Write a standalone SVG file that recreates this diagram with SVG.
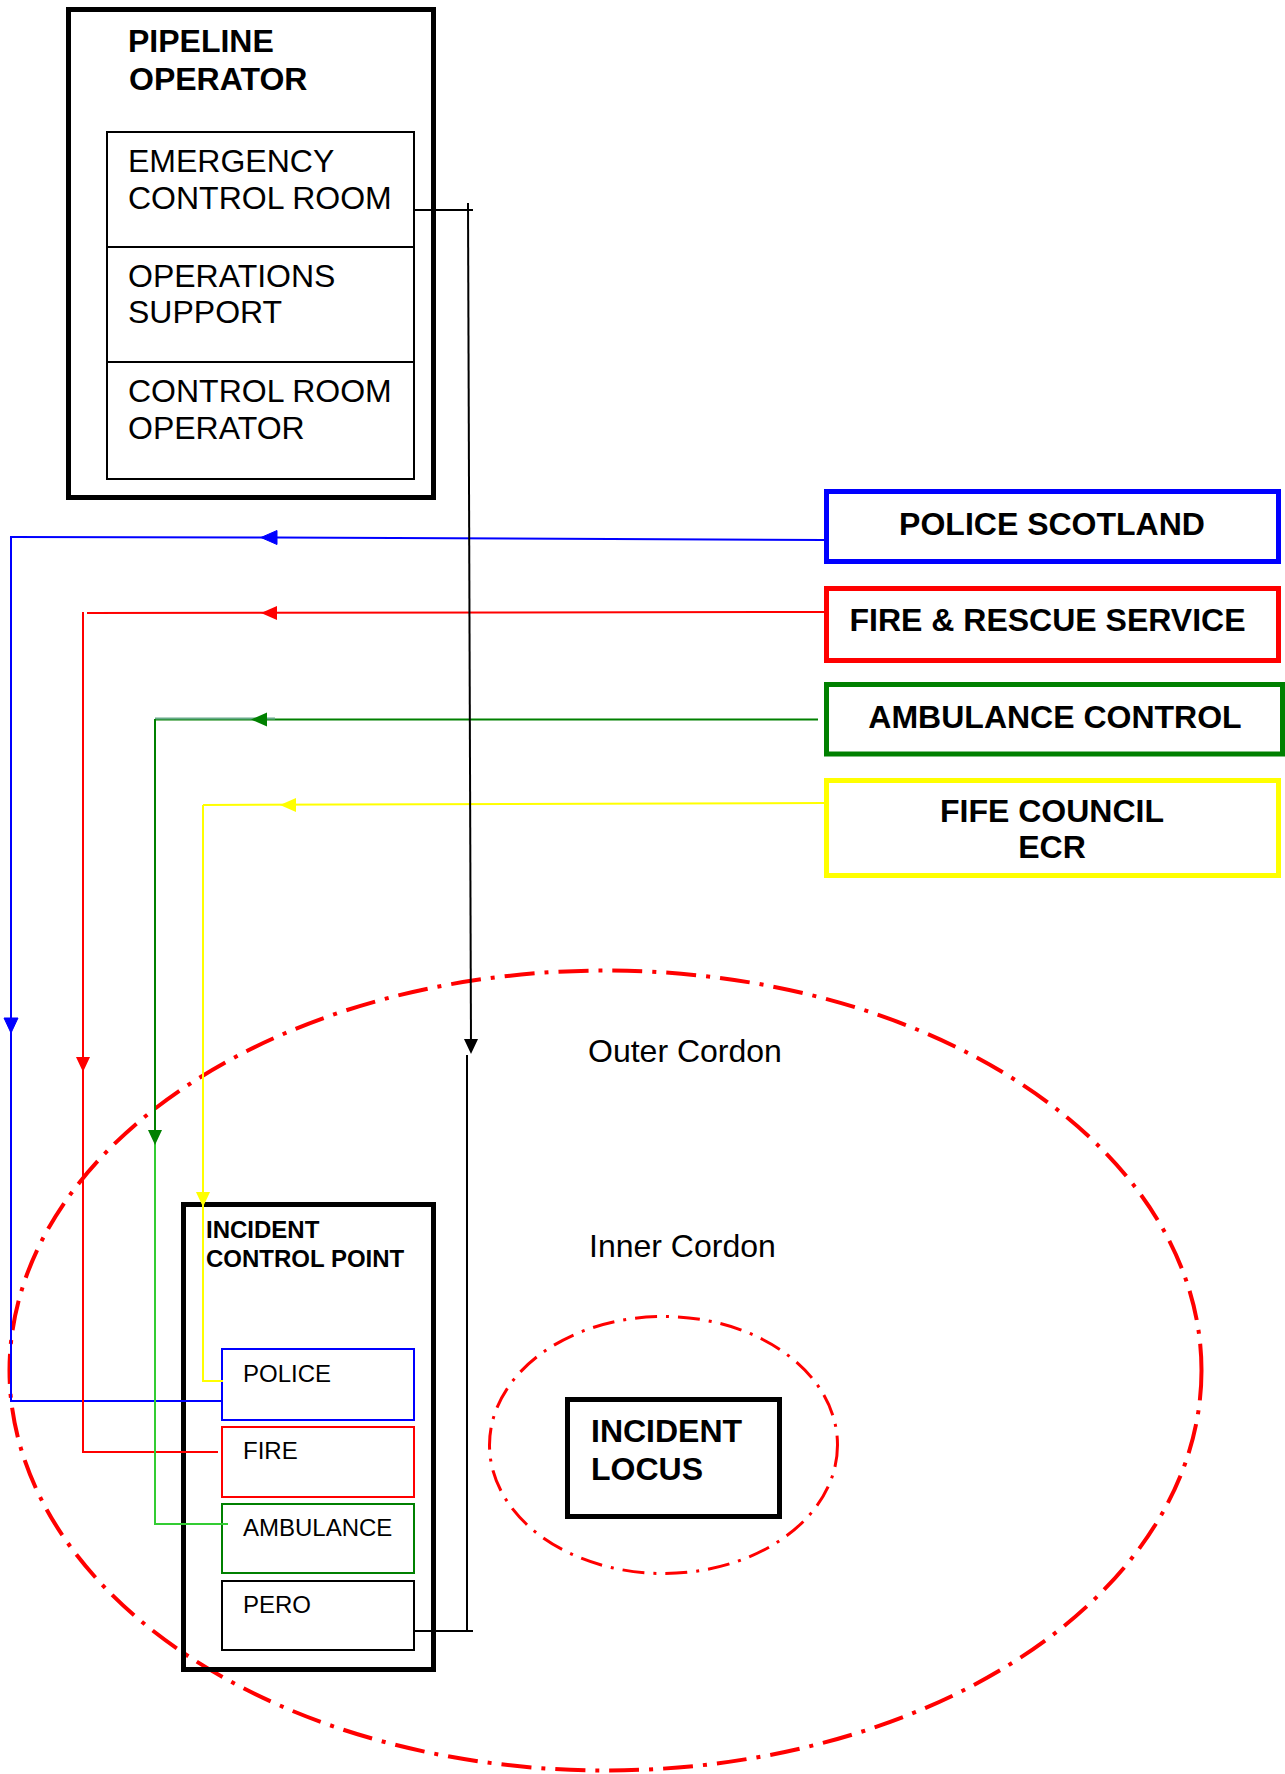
<svg xmlns="http://www.w3.org/2000/svg" width="1285" height="1774" viewBox="0 0 1285 1774">
<style>
text{font-family:"Liberation Sans",Arial,sans-serif;fill:#000}
.b{font-weight:bold}
.t32{font-size:32px}
.t24{font-size:24px}
.box{fill:none}
.thick{stroke:#000;stroke-width:5}
.thin{stroke-width:2}
.conn{fill:none;stroke-width:2}
.cordon{fill:none;stroke:#ff0000}
</style>
<defs>
<path id="arrL" d="M0,0 L16,-7 L16,7 Z"/>
<path id="arrD" d="M0,0 L-7,-15 L7,-15 Z"/>
</defs>
<rect width="1285" height="1774" fill="#fff"/>

<g id="outer-cordon">
<ellipse class="cordon" cx="605.5" cy="1370.5" rx="596" ry="400" stroke-width="4" stroke-dasharray="30 10 4 10"/>
<text class="t32" x="588" y="1062">Outer Cordon</text>
<text class="t32" x="589" y="1257">Inner Cordon</text>
</g>

<g id="inner-cordon">
<ellipse class="cordon" cx="663.5" cy="1445" rx="174" ry="128.5" stroke-width="3" stroke-dasharray="22 9 3 9"/>
</g>

<g id="pipeline-operator">
<rect class="box thick" x="68.5" y="9.5" width="365" height="488"/>
<text class="b t32" x="128" y="52">PIPELINE</text>
<text class="b t32" x="129" y="90">OPERATOR</text>
<rect class="box" stroke="#000" stroke-width="2" x="107" y="132" width="307" height="347"/>
<line x1="107" y1="247" x2="414" y2="247" stroke="#000" stroke-width="2"/>
<line x1="107" y1="362" x2="414" y2="362" stroke="#000" stroke-width="2"/>
<g id="ecr"><text class="t32" x="128" y="172">EMERGENCY</text><text class="t32" x="128" y="209">CONTROL ROOM</text></g>
<g id="ops-support"><text class="t32" x="128" y="287">OPERATIONS</text><text class="t32" x="128" y="323">SUPPORT</text></g>
<g id="cr-operator"><text class="t32" x="128" y="402">CONTROL ROOM</text><text class="t32" x="128" y="439">OPERATOR</text></g>
</g>

<g id="police-scotland">
<rect class="box" stroke="#0000ff" stroke-width="5" x="826.5" y="491.5" width="452" height="70"/>
<text class="b t32" x="1052" y="535" text-anchor="middle">POLICE SCOTLAND</text>
</g>
<g id="fire-rescue">
<rect class="box" stroke="#ff0000" stroke-width="5" x="826.5" y="588.5" width="452" height="72"/>
<text class="b t32" x="1047.5" y="631" text-anchor="middle">FIRE &amp; RESCUE SERVICE</text>
</g>
<g id="ambulance-control">
<rect class="box" stroke="#008000" stroke-width="5" x="826.5" y="684.5" width="456" height="69.5"/>
<text class="b t32" x="1055" y="728" text-anchor="middle">AMBULANCE CONTROL</text>
</g>
<g id="fife-council">
<rect class="box" stroke="#ffff00" stroke-width="5" x="826.5" y="780.5" width="452" height="95"/>
<text class="b t32" x="1052" y="822" text-anchor="middle">FIFE COUNCIL</text>
<text class="b t32" x="1052" y="858" text-anchor="middle">ECR</text>
</g>

<g id="incident-control-point">
<rect class="box thick" x="183.5" y="1204.5" width="250" height="465"/>
<text class="b t24" x="206" y="1238">INCIDENT</text>
<text class="b t24" x="206" y="1267">CONTROL POINT</text>
<g id="icp-police"><rect class="box" stroke="#0000ff" stroke-width="2" x="222" y="1349" width="192" height="71"/><text class="t24" x="243" y="1382">POLICE</text></g>
<g id="icp-fire"><rect class="box" stroke="#ff0000" stroke-width="2" x="222" y="1427" width="192" height="70"/><text class="t24" x="243" y="1459">FIRE</text></g>
<g id="icp-ambulance"><rect class="box" stroke="#008000" stroke-width="2" x="222" y="1504" width="192" height="69"/><text class="t24" x="243" y="1536">AMBULANCE</text></g>
<g id="icp-pero"><rect class="box" stroke="#000" stroke-width="2" x="222" y="1581" width="192" height="69"/><text class="t24" x="243" y="1613">PERO</text></g>
</g>

<g id="incident-locus">
<rect class="box thick" x="567.5" y="1399.5" width="212" height="117"/>
<text class="b t32" x="591" y="1442">INCIDENT</text>
<text class="b t32" x="591" y="1480">LOCUS</text>
</g>

<g id="connectors">
<g stroke="#0000ff" fill="#0000ff">
<polyline class="conn" points="824,540 277,537.5 10,537"/>
<polyline class="conn" points="11,537 11,1401 222,1401"/>
<use href="#arrL" x="261" y="537.5"/>
<use href="#arrD" x="11" y="1033"/>
</g>
<g stroke="#ff0000" fill="#ff0000">
<line class="conn" x1="824" y1="612" x2="87" y2="613"/>
<polyline class="conn" points="83,612 83,1452 218,1452"/>
<use href="#arrL" x="261" y="613" stroke="none"/>
<use href="#arrD" x="83" y="1072" stroke="none"/>
</g>
<g fill="#008000">
<line class="conn" stroke="#008000" x1="818" y1="719.5" x2="155" y2="719.5"/>
<line x1="155" y1="718.5" x2="275" y2="718.5" stroke="#66aa88" stroke-width="2"/>
<line class="conn" stroke="#008000" x1="155" y1="719" x2="155" y2="1140"/>
<polyline class="conn" stroke="#33cc33" points="155,1140 155,1524 228,1524"/>
<use href="#arrL" x="251" y="719.5"/>
<use href="#arrD" x="155" y="1145"/>
</g>
<g stroke="#ffff00" fill="#ffff00">
<line class="conn" x1="824" y1="803" x2="203" y2="805"/>
<polyline class="conn" points="203,805 203,1381 223,1381"/>
<use href="#arrL" x="280" y="805" stroke="none"/>
<use href="#arrD" x="203" y="1207" stroke="none"/>
</g>
<g stroke="#000" fill="#000">
<line class="conn" x1="414" y1="210" x2="473" y2="210"/>
<line class="conn" x1="468" y1="203" x2="471" y2="1045"/>
<use href="#arrD" x="471" y="1054" stroke="none"/>
<line class="conn" x1="467" y1="1055" x2="467" y2="1631"/>
<line class="conn" x1="414" y1="1631" x2="473" y2="1631"/>
</g>
</g>
</svg>
